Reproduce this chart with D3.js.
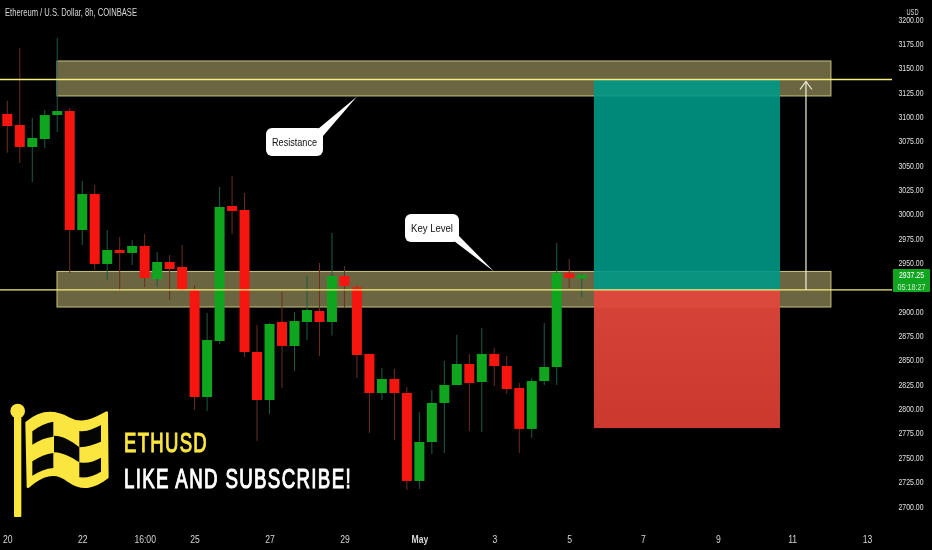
<!DOCTYPE html>
<html><head><meta charset="utf-8">
<script src="https://cdn.jsdelivr.net/npm/d3@7"></script>
<style>
html,body{margin:0;padding:0;background:#000;overflow:hidden}
svg{display:block;filter:blur(0.35px)}
text{font-family:"Liberation Sans",sans-serif}
</style></head><body>
<svg id="c" width="932" height="550"></svg>
<script>
const opens =[3102.5,3091.2,3068.6,3076.8,3101.4,3105.5,2983.4,3020.3,2948.5,2962.8,2959.8,2967,2933,2950.5,2945.4,2921.8,2811.9,2869.4,3008,3003.9,2858.1,2808.8,2889,2864.3,2888.9,2900.2,2888.9,2936.1,2924.8,2856.1,2816,2830.4,2816,2725.7,2765.7,2805.8,2824.2,2845.8,2827.3,2856.1,2843.7,2821.1,2779.1,2828.3,2842.7,2939.2,2933.5];
const closes=[3090.1,3068.6,3077.8,3101.4,3105.5,2983.4,3020.3,2948.5,2962.8,2959.8,2967,2934.1,2950.5,2943.3,2921.8,2811.9,2870.4,3007,3002.9,2858.1,2808.8,2886.9,2864.3,2889.9,2901.2,2888.9,2936.1,2925.9,2855,2816,2830.4,2816,2725.7,2765.7,2805.8,2824.2,2845.8,2826.3,2856.1,2843.7,2820.1,2779.1,2828.3,2842.7,2939.2,2934.1,2937.25];
const highs =[3116.1,3170.2,3098.4,3106.6,3180.5,3108.6,3033.7,3029.6,2983.4,2976.2,2973.1,2979.3,2960.8,2957.7,2968,2926.9,2898.2,3027.5,3038.8,3021.4,2885.8,2887.9,2920,2899.2,2936.1,2949.5,2980.3,2946.4,2925.9,2856.1,2841.7,2840.7,2822.2,2796.5,2819.1,2848.9,2875.6,2856.1,2882.8,2862.2,2854,2826.3,2831.4,2887.9,2970,2953.6,2938];
const lows  =[3062.7,3052.1,3032.6,3067.5,3084,2939.2,2968,2942.3,2932,2920.7,2947.4,2924.8,2924.8,2911.5,2921,2798.6,2797.5,2866.3,2979.3,2853,2766.7,2794.5,2821.1,2838.6,2870.4,2854,2875,2903.3,2831.4,2775,2808.8,2767.8,2716.4,2717.4,2753.4,2754.4,2824.2,2777,2776,2823.2,2815,2754.4,2769.8,2824.2,2824.2,2923.8,2914.6];
const priceTicks=[3200,3175,3150,3125,3100,3075,3050,3025,3000,2975,2950,2925,2900,2875,2850,2825,2800,2775,2750,2725,2700];
const timeTickAt=[0,6,11,15,21,27,33,39,45,50.9,56.9,62.85,68.85];
const timeTickLabels=["20","22","16:00","25","27","29","May","3","5","7","9","11","13"];
const zonePrices=[[3156.9,3121],[2940.8,2904.3]];
const levelPrices=[3137.9,2921.8];
const zoneStartEnd=[3.98,65.96];
const positionStartEnd=[46.98,61.88];
const positionPrices={target:3137.9,entry:2921.8,stop:2780};
const arrowAt=63.96;
const lastPrice="2937.25",countdown="05:18:27";

const svg=d3.select("#c");
const x=d3.scaleLinear().domain([0,46]).range([7.3,581.7]);
const y=d3.scaleLinear().domain([3200,2700]).range([19,506]);
const squeeze=(sel,k)=>sel.each(function(){this.setAttribute("textLength",this.getComputedTextLength()*k);this.setAttribute("lengthAdjust","spacingAndGlyphs");});

svg.append("rect").attr("width",932).attr("height",550).attr("fill","#000");

// zones
svg.selectAll("rect.z").data(zonePrices).join("rect").attr("class","z")
 .attr("x",x(zoneStartEnd[0])).attr("width",x(zoneStartEnd[1])-x(zoneStartEnd[0]))
 .attr("y",d=>y(d[0])).attr("height",d=>y(d[1])-y(d[0]))
 .attr("fill","#fff29a").attr("fill-opacity",0.42).attr("stroke","#c6c482").attr("stroke-width",1);

// candles
const RED="#f5170f",GREEN="#0fa51f";
const idx=d3.range(opens.length);
const g=svg.append("g");
g.selectAll("line.w").data(idx).join("line").attr("class","w")
 .attr("x1",i=>x(i)).attr("x2",i=>x(i)).attr("y1",i=>y(highs[i])).attr("y2",i=>y(lows[i]))
 .attr("stroke",i=>closes[i]>=opens[i]?"#1f5a48":"#6a2f22").attr("stroke-width",1);
g.selectAll("rect.b").data(idx).join("rect").attr("class","b")
 .attr("x",i=>x(i)-5).attr("width",10)
 .attr("y",i=>y(Math.max(opens[i],closes[i])))
 .attr("height",i=>Math.max(2,Math.abs(y(opens[i])-y(closes[i]))))
 .attr("fill",i=>closes[i]>=opens[i]?GREEN:RED);

// long position box
const px0=x(positionStartEnd[0]),px1=x(positionStartEnd[1]);
svg.append("rect").attr("x",px0).attr("width",px1-px0).attr("y",y(positionPrices.target))
 .attr("height",y(positionPrices.entry)-y(positionPrices.target)).attr("fill","#009886").attr("fill-opacity",0.9);
const grad=svg.append("defs").append("linearGradient").attr("id","rg").attr("x1",0).attr("x2",0).attr("y1",0).attr("y2",1);
grad.append("stop").attr("offset",0).attr("stop-color","#e2483c");
grad.append("stop").attr("offset",1).attr("stop-color","#d63c30");
svg.append("rect").attr("x",px0).attr("width",px1-px0).attr("y",y(positionPrices.entry))
 .attr("height",y(positionPrices.stop)-y(positionPrices.entry)).attr("fill","url(#rg)").attr("fill-opacity",0.95);

// levels
svg.selectAll("line.l").data(levelPrices).join("line").attr("class","l")
 .attr("x1",0).attr("x2",892).attr("y1",d=>y(d)).attr("y2",d=>y(d))
 .attr("stroke","#f6ee7c").attr("stroke-width",1.3);

// arrow
const ax=x(arrowAt);
svg.append("line").attr("x1",ax).attr("x2",ax).attr("y1",y(positionPrices.entry)).attr("y2",y(positionPrices.target)+2)
 .attr("stroke","#f2f0d8").attr("stroke-width",1.2);
svg.append("path").attr("d",`M${ax-6},${y(positionPrices.target)+10}L${ax},${y(positionPrices.target)+2}L${ax+6},${y(positionPrices.target)+10}`)
 .attr("fill","none").attr("stroke","#f2f0d8").attr("stroke-width",1.2);

// callouts
function callout(bx,by,w,h,tail,label,tw){
  svg.append("path").attr("d","M"+tail.map(p=>p.join(",")).join("L")+"Z").attr("fill","#fff");
  svg.append("rect").attr("x",bx).attr("y",by).attr("width",w).attr("height",h).attr("rx",6).attr("fill","#fff");
  svg.append("text").attr("x",bx+w/2).attr("y",by+h/2+4).attr("text-anchor","middle").attr("font-size",11.5).attr("fill","#111")
   .attr("textLength",tw).attr("lengthAdjust","spacingAndGlyphs").text(label);
}
callout(266,128,57,28,[[318,129],[357,96.5],[323,136]],"Resistance",45);
callout(405,214,54,28,[[459,236],[494,271.5],[454,241]],"Key Level",42);

// axes
const ya=d3.axisRight(y).tickValues(priceTicks).tickSize(0).tickFormat(d3.format(".2f"));
const yg=svg.append("g").attr("transform","translate(898.5,0)").call(ya);
yg.select(".domain").remove();
yg.selectAll("text").attr("x",0).attr("font-size",9.5).attr("fill","#e2e2e2").attr("font-family",null).attr("textLength",25).attr("lengthAdjust","spacingAndGlyphs");
const xa=d3.axisBottom(x).tickValues(timeTickAt).tickSize(0).tickFormat((d,i)=>timeTickLabels[i]);
const xg=svg.append("g").attr("transform","translate(0,533)").call(xa);
xg.select(".domain").remove();
xg.selectAll("text").attr("font-size",10.5).attr("fill","#d6d6d6").attr("font-family",null).attr("y",3);
xg.selectAll("g.tick").filter((d,i)=>timeTickLabels[i]==="May").select("text").attr("font-weight","bold");
squeeze(xg.selectAll("text"),0.82);

// USD tag
svg.append("rect").attr("x",905).attr("y",7).attr("width",15).attr("height",9).attr("rx",2).attr("fill","#000").attr("fill-opacity",0.85);
svg.append("text").attr("x",912.5).attr("y",15).attr("text-anchor","middle").attr("font-size",9).attr("fill","#dcdcdc").attr("textLength",12).attr("lengthAdjust","spacingAndGlyphs").text("USD");

// price tag
svg.append("rect").attr("x",893).attr("y",269).attr("width",37).attr("height",23).attr("rx",1).attr("fill",GREEN);
svg.append("text").attr("x",911.5).attr("y",278).attr("text-anchor","middle").attr("font-size",9.5).attr("fill","#fff").attr("textLength",25).attr("lengthAdjust","spacingAndGlyphs").text(lastPrice);
svg.append("text").attr("x",911.5).attr("y",290).attr("text-anchor","middle").attr("font-size",8.5).attr("fill","#cfe9d0").attr("textLength",28).attr("lengthAdjust","spacingAndGlyphs").text(countdown);

// title
svg.append("text").attr("x",5).attr("y",16).attr("font-size",10.5).attr("fill","#d8d8d8").attr("textLength",132).attr("lengthAdjust","spacingAndGlyphs").text("Ethereum / U.S. Dollar, 8h, COINBASE");

// logo
const logo=svg.append("g").attr("transform","translate(0,270) scale(0.3333)");
const Y="#fbe640";
logo.append("circle").attr("cx",53).attr("cy",423).attr("r",22).attr("fill",Y);
logo.append("rect").attr("x",42).attr("y",430).attr("width",22).attr("height",311).attr("rx",3).attr("fill",Y);
logo.append("path").attr("fill",Y).attr("stroke",Y).attr("stroke-width",8).attr("stroke-linejoin","round")
 .attr("d","M80,458 C125,420 170,425 205,445 C245,468 280,450 320,428 L322,622 C280,655 245,660 205,632 C165,600 125,615 84,650 Z");
const cells=[
 "M97,484 C118,468 138,458 160,455 L160,500 C138,503 118,510 97,524 Z",
 "M238,483 C262,486 282,476 303,465 L303,515 C282,524 262,531 238,532 Z",
 "M162,497 C190,498 214,512 238,532 L238,577 C214,562 190,548 162,547 Z",
 "M97,574 C118,560 138,552 160,549 L160,594 C138,596 118,604 97,617 Z",
 "M238,577 C262,582 282,574 303,563 L303,605 C282,618 262,624 238,622 Z"];
logo.selectAll("path.cell").data(cells).join("path").attr("class","cell").attr("d",d=>d).attr("fill","#050505");

// banner
const banner=(t,by,w,c)=>svg.append("text").attr("x",124).attr("y",by).attr("font-size",28.5).attr("letter-spacing","2px").attr("fill",c).attr("stroke",c).attr("stroke-width",1.1)
 .attr("textLength",w).attr("lengthAdjust","spacingAndGlyphs").text(t);
banner("ETHUSD",452,84,Y);
banner("LIKE AND SUBSCRIBE!",487.5,228,"#fff");
</script>
</body></html>
